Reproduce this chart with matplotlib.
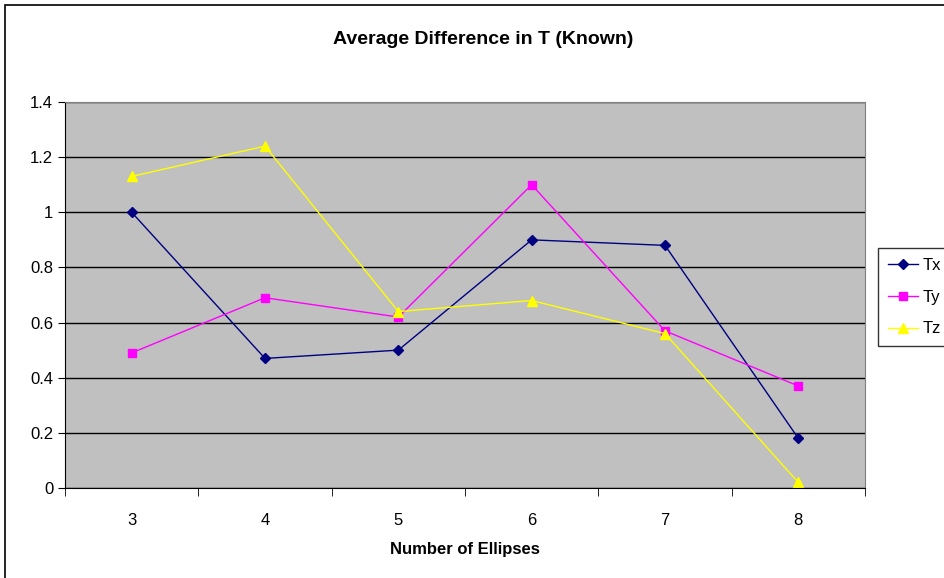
import matplotlib.pyplot as plt
import matplotlib.patches as mpatches
from matplotlib.ticker import FixedLocator, FuncFormatter

plt.rcParams['font.family'] = ['Liberation Sans', 'DejaVu Sans']

ellipses = [3, 4, 5, 6, 7, 8]
tx = [1.0, 0.47, 0.50, 0.90, 0.88, 0.18]
ty = [0.49, 0.69, 0.62, 1.10, 0.57, 0.37]
tz = [1.13, 1.24, 0.64, 0.68, 0.56, 0.02]

fig = plt.figure(figsize=(9.44, 5.78), dpi=100)
ax = fig.add_axes([65/944, 1-488/578, 800/944, 386/578])

# outer chart frame
frame = mpatches.Rectangle((5/944, -0.1), 1.2, 1-5/578+0.1, transform=fig.transFigure,
                           fill=False, edgecolor='black', linewidth=1.2, clip_on=False)
fig.patches.append(frame)

ax.set_facecolor('#c0c0c0')
ax.plot(ellipses, tx, color='#000080', marker='D', markersize=5, linewidth=1, label='Tx')
ax.plot(ellipses, ty, color='#ff00ff', marker='s', markersize=6, linewidth=1, label='Ty')
ax.plot(ellipses, tz, color='#ffff00', marker='^', markersize=7, linewidth=1, label='Tz')

ax.set_xlim(2.5, 8.5)
ax.set_ylim(0, 1.4)
ax.set_yticks([0, 0.2, 0.4, 0.6, 0.8, 1.0, 1.2, 1.4])
ax.yaxis.set_major_formatter(FuncFormatter(lambda v, p: '%g' % v))
ax.yaxis.grid(True, color='black', linewidth=1)
ax.set_axisbelow(True)

ax.set_xticks(ellipses)
ax.set_xticklabels([str(e) for e in ellipses])
ax.tick_params(axis='x', which='major', length=0, pad=18)
ax.xaxis.set_minor_locator(FixedLocator([2.5 + i for i in range(7)]))
ax.tick_params(axis='x', which='minor', length=6, direction='out', color='black')
ax.tick_params(axis='y', length=5, direction='out', color='black')
ax.tick_params(labelsize=12)

for s in ['top', 'right']:
    ax.spines[s].set_color('#808080')
for s in ['left', 'bottom']:
    ax.spines[s].set_color('black')

ax.set_xlabel('Number of Ellipses', fontsize=12, fontweight='bold', labelpad=10)
fig.text(483/944, 1-40/578, 'Average Difference in T (Known)', ha='center', va='center',
         fontsize=14, fontweight='bold')

leg = fig.legend(loc='upper left', bbox_to_anchor=(878/944, 1-248/578), frameon=True,
                 fancybox=False, edgecolor='black', fontsize=12, handlelength=1.8,
                 borderpad=0.6, labelspacing=1.0, handletextpad=0.25, borderaxespad=0)
leg.get_frame().set_linewidth(1)

plt.savefig('out.png')
